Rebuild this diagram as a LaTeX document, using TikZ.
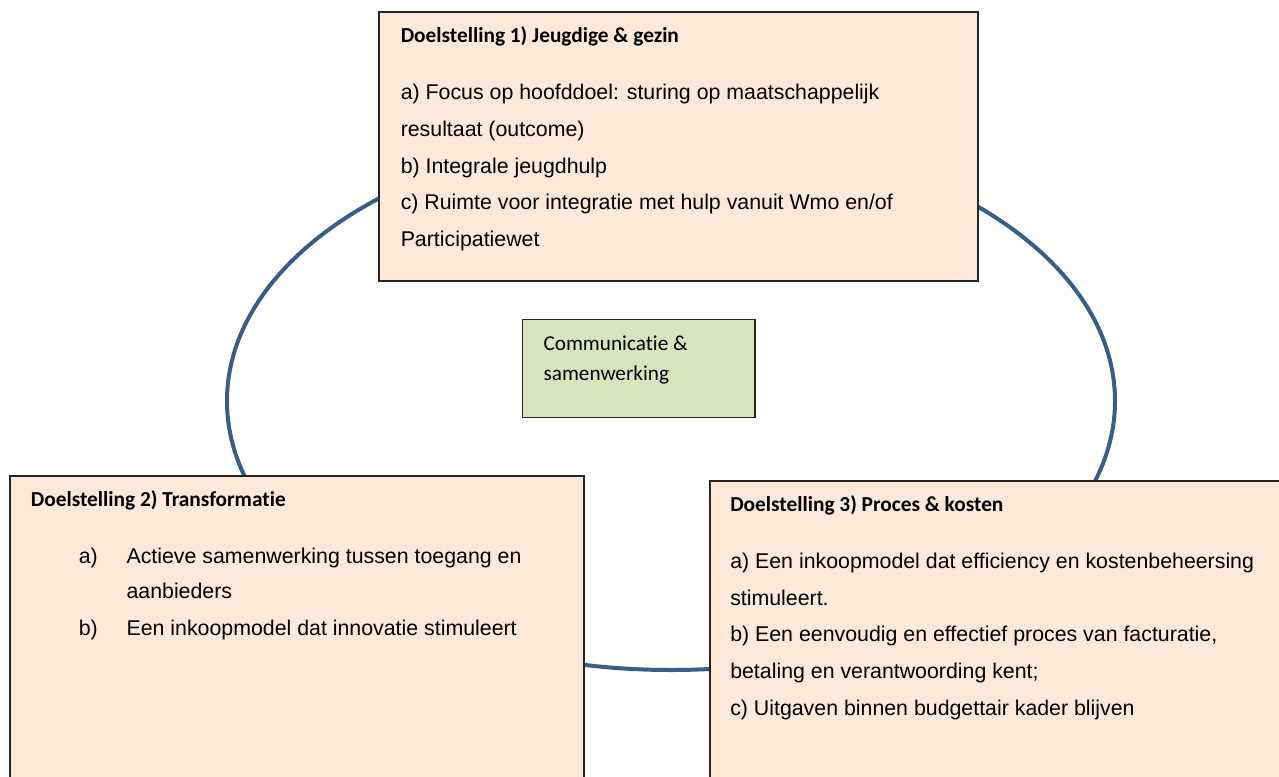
\documentclass[tikz,border=0pt]{standalone}
\usepackage{fontspec}
\setmainfont{Liberation Sans}
\newfontfamily\calfont[Ligatures=NoCommon]{Carlito}
\usetikzlibrary{fit}
\definecolor{peach}{HTML}{FDE9D9}
\definecolor{sage}{HTML}{D7E4BD}
\definecolor{ringblue}{HTML}{385D8A}
\begin{document}
\begin{tikzpicture}[x=0.75pt,y=-0.75pt,
  goalbox/.style={draw=black!85, line width=0.8pt, fill=peach, inner sep=0pt, outer sep=0pt},
  commbox/.style={draw=black!85, line width=0.8pt, fill=sage, inner sep=0pt, outer sep=0pt},
  ttl/.style={anchor=base west, inner sep=0pt, font=\calfont\bfseries\fontsize{16pt}{18pt}\selectfont},
  body/.style={anchor=base west, inner sep=0pt, font=\fontsize{16pt}{18pt}\selectfont},
  ctext/.style={anchor=base west, inner sep=0pt, font=\calfont\fontsize{15.9pt}{18pt}\selectfont}]
\useasboundingbox (0,0) rectangle (1279,776);
\fill[white] (0,0) rectangle (1279,776);
% ring
\draw[ringblue, line width=3pt] (671,401) ellipse [x radius=333pt, y radius=201.75pt];
% boxes
\node[goalbox, fit={(379,12) (978,281)}] (g1) {};
\node[goalbox, fit={(10,476) (584,800)}] (g2) {};
\node[goalbox, fit={(710,481) (1290,800)}] (g3) {};
\node[commbox, fit={(522.7,319.3) (755,417.7)}] (cs) {};
% box 1
\node[ttl] (g1t) at (400.5,42.7) {Doelstelling 1) Jeugdige \& gezin};
\node[body] (g1a) at (400.5,99) {a) Focus op hoofddoel: sturing op maatschappelijk};
\node[body] (g1a2) at (400.5,136.5) {resultaat (outcome)};
\node[body] (g1b) at (400.5,173) {b) Integrale jeugdhulp};
\node[body] (g1c) at (400.5,209.5) {c) Ruimte voor integratie met hulp vanuit Wmo en/of};
\node[body] (g1c2) at (400.5,246) {Participatiewet};
% box 2
\node[ttl] (g2t) at (30.6,506.7) {Doelstelling 2) Transformatie};
\node[body] (g2al) at (78.5,563) {a)};
\node[body] (g2a) at (126.3,563) {Actieve samenwerking tussen toegang en};
\node[body] (g2a2) at (126.3,598.5) {aanbieders};
\node[body] (g2bl) at (78.5,635) {b)};
\node[body] (g2b) at (126.3,635) {Een inkoopmodel dat innovatie stimuleert};
% box 3
\node[ttl] (g3t) at (730,511.7) {Doelstelling 3) Proces \& kosten};
\node[body] (g3a) at (730,568.3) {a) Een inkoopmodel dat efficiency en kostenbeheersing};
\node[body] (g3a2) at (730,605) {stimuleert.};
\node[body] (g3b) at (730,641.7) {b) Een eenvoudig en effectief proces van facturatie,};
\node[body] (g3b2) at (730,678) {betaling en verantwoording kent;};
\node[body] (g3c) at (730,715) {c) Uitgaven binnen budgettair kader blijven};
% communication box
\node[ctext] (cs1) at (543.3,350.7) {Communicatie \&};
\node[ctext] (cs2) at (543.3,380.7) {samenwerking};
\end{tikzpicture}
\end{document}
